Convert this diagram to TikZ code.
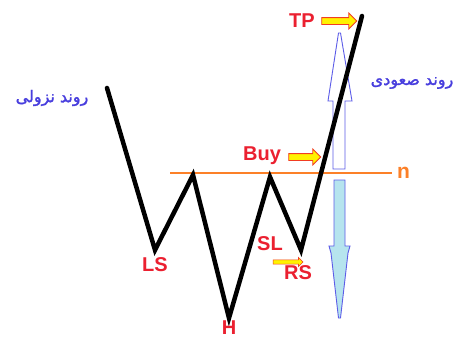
\documentclass[tikz,border=0pt]{standalone}
\usepackage{fontspec}
\setmainfont{Liberation Sans}
\newfontfamily\arabicfont[Script=Arabic, FakeBold=1.6]{DejaVu Sans}
\TeXXeTstate=1
\usetikzlibrary{shapes.arrows, positioning}

\definecolor{labred}{RGB}{235,32,48}
\definecolor{trendblue}{RGB}{72,62,222}
\definecolor{necko}{RGB}{252,128,40}
\definecolor{edgeblue}{RGB}{92,92,232}
\definecolor{dropfill}{RGB}{182,228,238}

\begin{document}
\begin{tikzpicture}[
  x=1pt, y=-1pt,
  lbl/.style={text=labred, font=\fontsize{20}{22}\selectfont\bfseries, inner sep=0pt},
  trend/.style={text=trendblue, font=\arabicfont\fontsize{16}{18}\selectfont, inner sep=0pt},
  hint/.style={single arrow, draw=labred!70!orange, fill=yellow, line width=0.8pt,
               inner xsep=0pt, inner ysep=3pt, single arrow head extend=4.5pt, shape border rotate=0},
  price/.style={line width=4.5pt, line join=miter, line cap=round},
  neck/.style={necko, line width=2.2pt}
]
\useasboundingbox[fill=white] (0,0) rectangle (461,340);

% swing points of the pattern
\coordinate (st) at (107,88);
\coordinate (ls) at (155,250);
\coordinate (pk1) at (193,175);
\coordinate (hd) at (229,318);
\coordinate (pk2) at (270,177);
\coordinate (rs) at (301,250);
\coordinate (tp) at (362,16);

% neckline
\coordinate (nl) at (170,173);
\coordinate (nr) at (392,173);
\draw[neck] (nl) -- (nr);
\node[text=necko, font=\fontsize{21}{22}\selectfont\bfseries, inner sep=0pt, right=5pt of nr] (n) {n};

% target move up and down
\draw[edgeblue, fill=white, line width=0.9pt]
  (333,169) -- (345,169) -- (345,101) -- (352,101) -- (340.5,33)
  -- (338.5,33) -- (328,101) -- (333,101) -- cycle;
\draw[edgeblue, fill=dropfill, line width=0.9pt]
  (334,180) -- (345,180) -- (345,246) -- (350,246) -- (348,253)
  -- (340.5,318) -- (338.5,318) -- (331,253) -- (329,246) -- (334,246) -- cycle;

% price line
\draw[price] (st) -- (ls) -- (pk1) -- (hd) -- (pk2) -- (rs) -- (tp);

% labels
\node[lbl, below=7pt of ls] (lsl) {LS};
\node[lbl, below=3pt of hd] (hl) {H};
\node[lbl] (sl) at (270,244) {SL};
\node[lbl] (rsl) at (298,273) {RS};
\node[lbl] (buy) at (262,156) {Buy};
\node[lbl] (tpl) at (302,21) {TP};

% hint arrows
\node[hint, minimum height=35pt] (tpa) at (337.5,21) {};
\node[hint, minimum height=32pt] (buya) at (303,157) {};
\node[hint, minimum height=30pt, inner ysep=1.8pt, single arrow head extend=2.5pt, line width=0.6pt] (sla) at (287,262) {};

% trend names
\node[trend] (down) at (52,98) {\beginR روند نزولی\endR};
\node[trend] (up) at (412,83) {\beginR روند صعودی\endR};
\end{tikzpicture}
\end{document}
